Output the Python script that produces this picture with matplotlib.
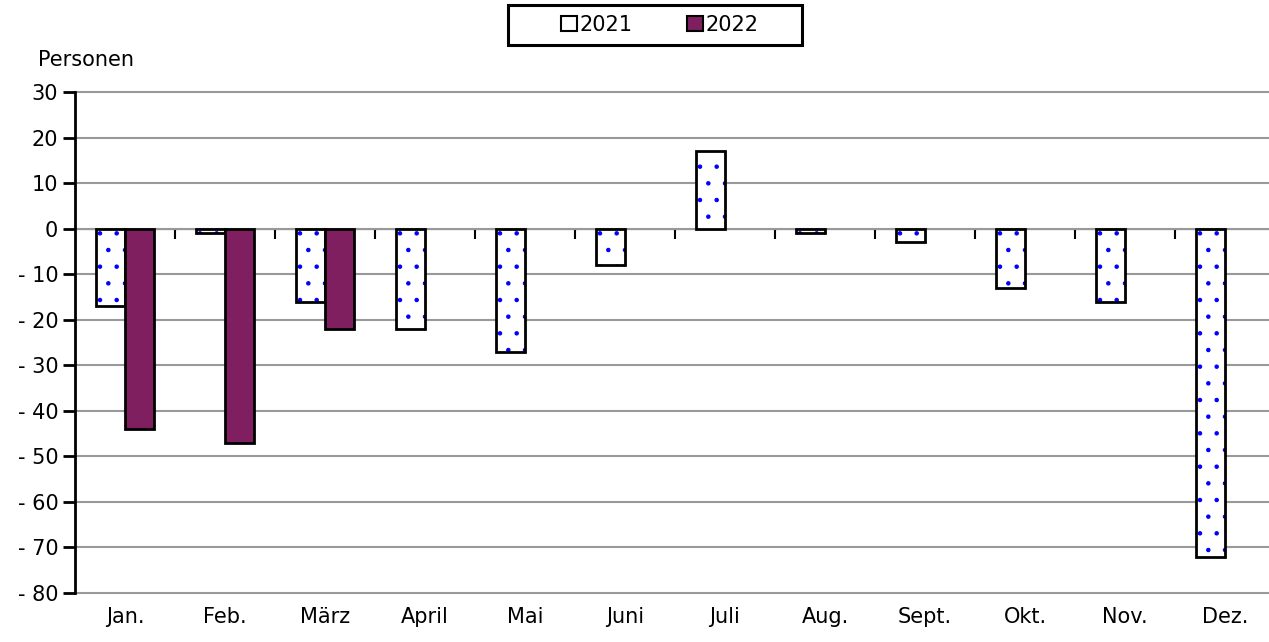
import matplotlib
matplotlib.use("Agg")
import matplotlib.pyplot as plt
import numpy as np
from matplotlib.patches import Patch, Rectangle

months = ["Jan.", "Feb.", "März", "April", "Mai", "Juni", "Juli", "Aug.", "Sept.", "Okt.", "Nov.", "Dez."]
v2021 = [-17, -1, -16, -22, -27, -8, 17, -1, -3, -13, -16, -72]
v2022 = [-44, -47, -22, np.nan, np.nan, np.nan, np.nan, np.nan, np.nan, np.nan, np.nan, np.nan]
yticks = [30, 20, 10, 0, -10, -20, -30, -40, -50, -60, -70, -80]
ylabels = ["30", "20", "10", "0", "- 10", "- 20", "- 30", "- 40", "- 50", "- 60", "- 70", "- 80"]

plt.rcParams['font.family'] = ['DejaVu Sans']
plt.rcParams['hatch.linewidth'] = 0.8

W, H = 1269, 642
fig = plt.figure(figsize=(W/100, H/100), dpi=100)
left, right, top, bottom = 75, 1275, 92, 593
ax = fig.add_axes([left/W, 1-bottom/H, (right-left)/W, (bottom-top)/H])

x = np.arange(len(months))
bw = 0.29
purple = "#7F1F5F"
fs = 15

ax.set_ylim(-80, 30)
ax.set_xlim(-0.5, len(months)-0.5)
ax.set_yticks(yticks)
ax.set_yticklabels(ylabels, fontsize=fs)
ax.yaxis.grid(True, color="#999999", linewidth=1.5, zorder=0)
for gl in ax.get_ygridlines():
    gl.set_clip_on(False)
ax.set_axisbelow(True)

# 2021 bars: hatch fill then outline
ax.bar(x - bw/2, v2021, width=bw, color="white", edgecolor="#0000FF", hatch=".", linewidth=0, zorder=2)
ax.bar(x - bw/2, v2021, width=bw, fill=False, edgecolor="black", linewidth=2, zorder=3)
ax.bar(x + bw/2, v2022, width=bw, color=purple, edgecolor="black", linewidth=2, zorder=3)

for s in ["top", "right", "bottom"]:
    ax.spines[s].set_visible(False)
ax.spines["left"].set_linewidth(2)
ax.spines["left"].set_zorder(4)
ax.tick_params(axis="y", length=9, width=2, direction="out", pad=3)

ax.set_xticks(x)
ax.set_xticklabels(months, fontsize=fs)
ax.tick_params(axis="x", length=0, pad=10)

# zero line with category boundary ticks
sec = ax.secondary_xaxis(80/110)
sec.set_xticks(np.arange(0.5, len(months)-0.5, 1.0))
sec.set_xticklabels([])
sec.spines["bottom"].set_linewidth(2.2)
sec.spines["bottom"].set_color("black")
sec.tick_params(axis="x", length=7, width=1.5, direction="in", labelbottom=False, labeltop=False)

fig.text(38/W, 1-60/H, "Personen", fontsize=fs, ha="left", va="center")

handles = [Patch(facecolor="white", edgecolor="black", linewidth=1.5, label="2021"),
           Patch(facecolor=purple, edgecolor="black", linewidth=1.5, label="2022")]
leg = fig.legend(handles=handles, loc="center", bbox_to_anchor=(660/W, 1-25/H), ncol=2,
                 fontsize=fs, frameon=False,
                 handlelength=0.75, handleheight=0.75, handletextpad=0.15, columnspacing=2.6,
                 borderpad=0.0, borderaxespad=0)
fig.patches.append(Rectangle((508/W, 1-45/H), (802-508)/W, 40/H, transform=fig.transFigure,
                             fill=False, edgecolor="black", linewidth=2.2, figure=fig))

fig.savefig("out.png", dpi=100)
